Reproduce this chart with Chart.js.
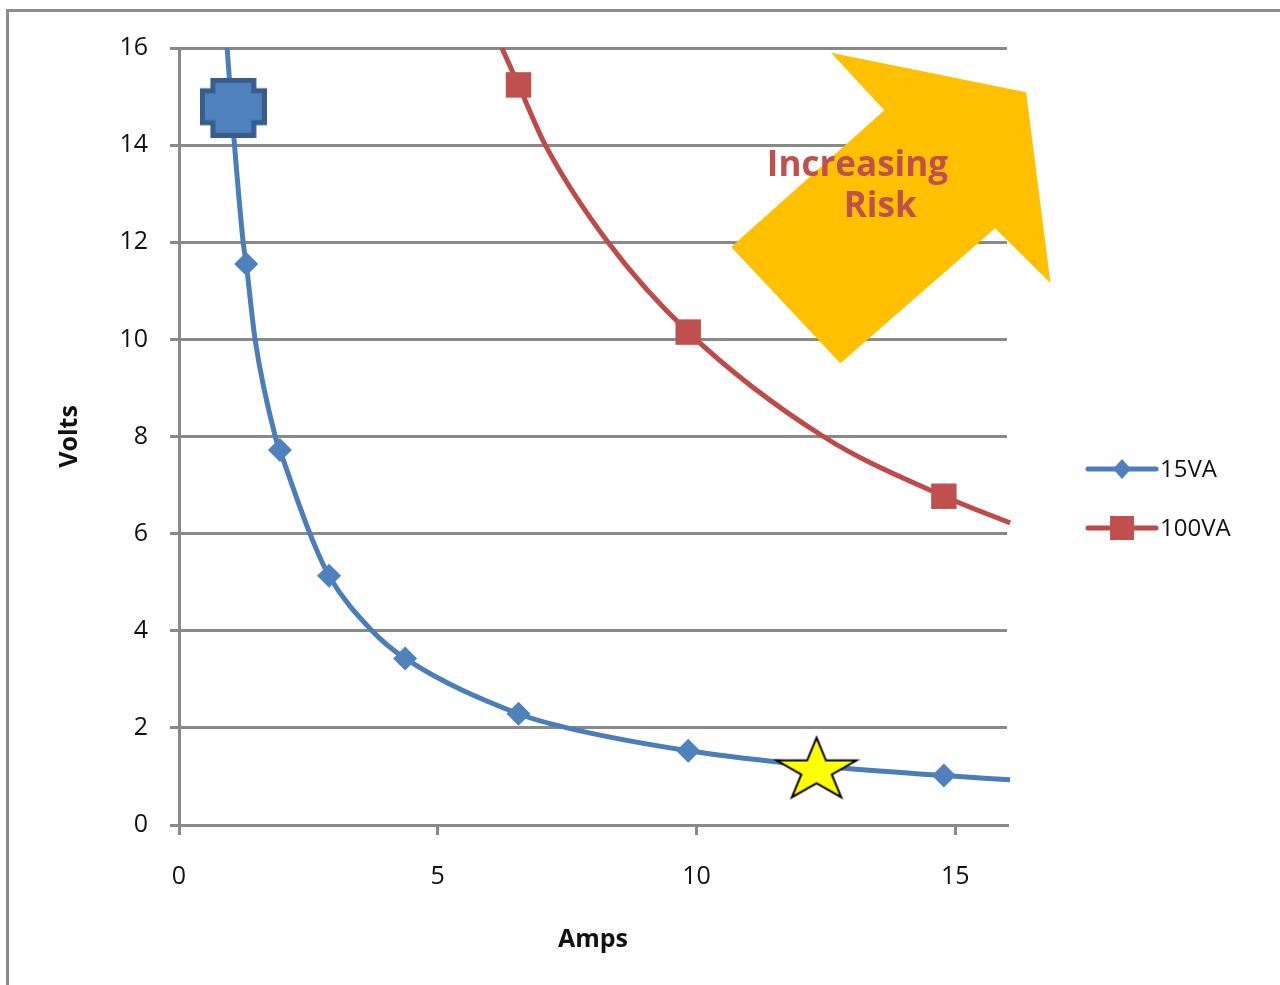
<!DOCTYPE html>
<html>
<head>
<meta charset="utf-8">
<title>Volts vs Amps</title>
<script src="https://cdn.jsdelivr.net/npm/chart.js@4/dist/chart.umd.min.js"></script>
<style>
  html, body { margin: 0; padding: 0; background: #fff; }
  #wrap { width: 1280px; height: 985px; }
</style>
</head>
<body>
<div id="wrap"><canvas id="chart" width="1280" height="985"></canvas></div>
<script>
// 15VA curve (ends are where it leaves the plot)
const lowCurveAmps  = [0.93, 1.02, 1.24, 1.30, 1.47, 1.86, 1.95, 2.53, 2.90, 3.73, 4.37, 6.56, 7.50, 9.84, 12.30, 14.78, 16.06];
const lowCurveVolts = [16.0, 14.7, 12.0, 11.55, 10.0, 8.0, 7.72, 6.0, 5.13, 4.0, 3.43, 2.29, 2.0, 1.53, 1.22, 1.02, 0.93];
// 15VA diamond markers
const lowMarkAmps  = [1.30, 1.95, 2.90, 4.37, 6.56, 9.84, 14.78];
const lowMarkVolts = [11.55, 7.72, 5.13, 3.43, 2.29, 1.53, 1.02];

// 100VA curve and square markers
const highCurveAmps  = [6.24, 6.56, 7.08, 8.29, 9.84, 12.45, 14.78, 16.06];
const highCurveVolts = [16.0, 15.24, 14.0, 12.0, 10.15, 8.0, 6.77, 6.22];
const highMarkAmps  = [6.56, 9.84, 14.78];
const highMarkVolts = [15.24, 10.15, 6.77];

// highlighted points
const crossAmps = [1.05];
const crossVolts = [14.77];
const starAmps = [12.32];
const starVolts = [1.12];

const seriesNames = ['15VA', '100VA'];
const xTicks = [0, 5, 10, 15];
const yTicks = [0, 2, 4, 6, 8, 10, 12, 14, 16];
const arrowLabel = ['Increasing', 'Risk'];

const FONT = '"Open Sans", "DejaVu Sans", sans-serif';
const GRID = '#898989';
const BLUE = '#4A7EBB';
const RED = '#BE4B48';

function pts(xs, ys) {
  return xs.map((x, i) => ({ x, y: ys[i] }));
}

function crossImage() {
  const w = 67, h = 60, a = 13, s = 2.5;
  const c = document.createElement('canvas');
  c.width = w; c.height = h;
  const g = c.getContext('2d');
  g.beginPath();
  g.moveTo(a, s); g.lineTo(w - a, s); g.lineTo(w - a, a); g.lineTo(w - s, a);
  g.lineTo(w - s, h - a - 2); g.lineTo(w - a, h - a - 2); g.lineTo(w - a, h - s);
  g.lineTo(a, h - s); g.lineTo(a, h - a - 2); g.lineTo(s, h - a - 2); g.lineTo(s, a); g.lineTo(a, a);
  g.closePath();
  g.fillStyle = '#4F81BD';
  g.fill();
  g.lineWidth = 5;
  g.strokeStyle = '#385D8A';
  g.stroke();
  return c;
}

function starImage() {
  const rx = 42, ry = 33, cx = 44, cy = 36;
  const c = document.createElement('canvas');
  c.width = 88; c.height = 72;
  const g = c.getContext('2d');
  g.beginPath();
  for (let k = 0; k < 10; k++) {
    const ang = (-90 + 36 * k) * Math.PI / 180;
    const r = k % 2 === 0 ? 1 : 0.382;
    const px = cx + r * rx * Math.cos(ang);
    const py = cy + r * ry * Math.sin(ang);
    if (k === 0) g.moveTo(px, py); else g.lineTo(px, py);
  }
  g.closePath();
  g.fillStyle = '#FFFF00';
  g.fill();
  g.lineWidth = 2;
  g.strokeStyle = '#000';
  g.stroke();
  return c;
}

// frame around the picture + white background
const framePlugin = {
  id: 'frame',
  beforeDraw(chart) {
    const ctx = chart.ctx;
    ctx.save();
    ctx.fillStyle = '#fff';
    ctx.fillRect(0, 0, chart.width, chart.height);
    ctx.strokeStyle = '#8c8c8c';
    ctx.lineWidth = 3;
    ctx.beginPath();
    ctx.moveTo(7.5, chart.height);
    ctx.lineTo(7.5, 10.5);
    ctx.lineTo(chart.width, 10.5);
    ctx.stroke();
    ctx.restore();
  }
};

// big yellow arrow, vertices in axis units
const arrowShape = [[12.60, 15.90], [16.37, 15.09], [16.84, 11.16], [15.77, 12.29], [12.78, 9.51], [10.67, 11.90], [13.63, 14.72]];

const arrowPlugin = {
  id: 'riskArrow',
  beforeDatasetsDraw(chart) {
    const { ctx, scales: { x, y } } = chart;
    ctx.save();
    ctx.beginPath();
    arrowShape.forEach((p, i) => {
      const px = x.getPixelForValue(p[0]);
      const py = y.getPixelForValue(p[1]);
      if (i === 0) ctx.moveTo(px, py); else ctx.lineTo(px, py);
    });
    ctx.closePath();
    ctx.fillStyle = '#FFC000';
    ctx.fill();

    ctx.fillStyle = '#C0504D';
    ctx.font = 'bold 35px ' + FONT;
    ctx.textAlign = 'center';
    ctx.textBaseline = 'alphabetic';
    ctx.fillText(arrowLabel[0], x.getPixelForValue(13.11), y.getPixelForValue(13.36));
    ctx.fillText(arrowLabel[1], x.getPixelForValue(13.55), y.getPixelForValue(12.53));
    ctx.restore();
  }
};

// legend: line with marker, like the office chart
const legendPlugin = {
  id: 'lineLegend',
  afterDraw(chart) {
    const ctx = chart.ctx;
    const rows = [
      { name: seriesNames[0], color: BLUE, fill: '#4F81BD', shape: 'diamond', y: 469 },
      { name: seriesNames[1], color: RED, fill: '#C0504D', shape: 'square', y: 528 }
    ];
    ctx.save();
    rows.forEach(r => {
      ctx.strokeStyle = r.color;
      ctx.lineWidth = 5;
      ctx.lineCap = 'round';
      ctx.beginPath();
      ctx.moveTo(1088, r.y);
      ctx.lineTo(1156, r.y);
      ctx.stroke();
      ctx.fillStyle = r.fill;
      ctx.beginPath();
      if (r.shape === 'diamond') {
        ctx.moveTo(1122, r.y - 10); ctx.lineTo(1131, r.y); ctx.lineTo(1122, r.y + 10); ctx.lineTo(1113, r.y);
        ctx.closePath();
      } else {
        ctx.rect(1110, r.y - 12, 24, 24);
      }
      ctx.fill();
      ctx.fillStyle = '#111';
      ctx.font = '24px ' + FONT;
      ctx.textAlign = 'left';
      ctx.textBaseline = 'middle';
      ctx.fillText(r.name, 1160, r.y + 1);
    });
    ctx.restore();
  }
};

const curveStyle = {
  showLine: true,
  pointRadius: 0,
  pointHoverRadius: 0,
  borderWidth: 5,
  cubicInterpolationMode: 'monotone',
  fill: false,
  clip: { left: 0, top: 0, right: 4, bottom: 0 }
};

const chart = new Chart(document.getElementById('chart'), {
  type: 'scatter',
  data: {
    datasets: [
      {
        label: 'star',
        data: pts(starAmps, starVolts),
        pointStyle: starImage(),
        pointRadius: 30,
        clip: false
      },
      {
        label: 'cross',
        data: pts(crossAmps, crossVolts),
        pointStyle: crossImage(),
        pointRadius: 30,
        clip: false
      },
      {
        label: seriesNames[0] + ' markers',
        data: pts(lowMarkAmps, lowMarkVolts),
        pointStyle: 'rectRot',
        pointRadius: 12,
        backgroundColor: '#4F81BD',
        borderColor: '#4F81BD',
        borderWidth: 0
      },
      {
        label: seriesNames[1] + ' markers',
        data: pts(highMarkAmps, highMarkVolts),
        pointStyle: 'rect',
        pointRadius: 18,
        backgroundColor: '#C0504D',
        borderColor: '#C0504D',
        borderWidth: 0
      },
      Object.assign({ label: seriesNames[0], data: pts(lowCurveAmps, lowCurveVolts), borderColor: BLUE }, curveStyle),
      Object.assign({ label: seriesNames[1], data: pts(highCurveAmps, highCurveVolts), borderColor: RED }, curveStyle)
    ]
  },
  options: {
    responsive: false,
    animation: false,
    events: [],
    layout: { padding: { left: 0, top: 48, right: 273, bottom: 0 } },
    plugins: {
      legend: { display: false },
      tooltip: { enabled: false }
    },
    scales: {
      x: {
        type: 'linear',
        min: 0,
        max: 16,
        afterBuildTicks: s => { s.ticks = xTicks.map(v => ({ value: v })); },
        afterFit: s => { s.height = 160; },
        ticks: { color: '#111', font: { family: FONT, size: 25 }, padding: 27, maxRotation: 0 },
        grid: { drawOnChartArea: false, drawTicks: true, tickLength: 10, color: GRID, lineWidth: 3 },
        border: { display: true, color: GRID, width: 3 },
        title: { display: true, text: 'Amps', color: '#111', font: { family: FONT, size: 25, weight: 'bold' }, padding: { top: 0, bottom: 30 } }
      },
      y: {
        type: 'linear',
        min: 0,
        max: 16,
        afterBuildTicks: s => { s.ticks = yTicks.map(v => ({ value: v })); },
        afterFit: s => { s.width = 179; },
        ticks: { color: '#111', font: { family: FONT, size: 25 }, padding: 22 },
        grid: { color: GRID, lineWidth: 3, tickLength: 9 },
        border: { display: true, color: GRID, width: 3 },
        title: { display: true, text: 'Volts', color: '#111', font: { family: FONT, size: 25, weight: 'bold' }, padding: { top: 55, bottom: 0 } }
      }
    }
  },
  plugins: [framePlugin, arrowPlugin, legendPlugin]
});
</script>
</body>
</html>
